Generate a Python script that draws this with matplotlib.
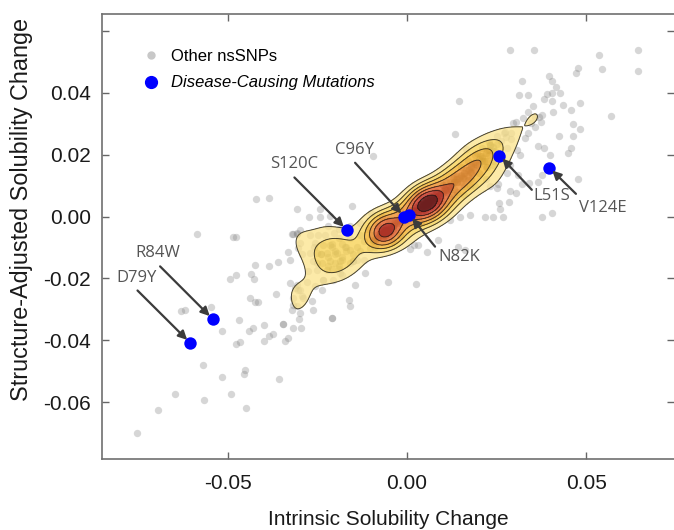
import numpy as np
import matplotlib
matplotlib.use("Agg")
import matplotlib.pyplot as plt
from matplotlib.lines import Line2D

plt.rcParams['font.family'] = ['Liberation Sans', 'DejaVu Sans']

# ---------------- data ----------------
# sparse nsSNPs, lower-left side
other_lowleft = [
    (-0.0586,-0.0056),(-0.0486,-0.0066),(-0.0477,-0.0066),(-0.0421,0.0057),(-0.0385,0.0061),
    (-0.0307,0.0025),(-0.0322,-0.0057),(-0.0307,-0.0056),(-0.0332,-0.0114),(-0.0304,-0.0101),
    (-0.0424,-0.0156),(-0.0385,-0.0159),(-0.0360,-0.0146),(-0.0326,-0.0142),(-0.0298,-0.0085),
    (-0.0294,-0.0120),(-0.0494,-0.0202),(-0.0477,-0.0188),(-0.0436,-0.0186),(-0.0426,-0.0202),
    (-0.0438,-0.0263),(-0.0424,-0.0277),(-0.0417,-0.0277),(-0.0366,-0.0249),(-0.0326,-0.0215),
    (-0.0312,-0.0231),(-0.0303,-0.0236),(-0.0319,-0.0263),(-0.0289,-0.0263),(-0.0322,-0.0301),
    (-0.0308,-0.0290),(-0.0298,-0.0312),(-0.0300,-0.0331),(-0.0296,-0.0360),(-0.0319,-0.0360),
    (-0.0345,-0.0346),(-0.0345,-0.0346),(-0.0266,-0.0274),(-0.0263,-0.0301),(-0.0161,-0.0271),
    (-0.0159,-0.0290),(-0.0208,-0.0328),(-0.0208,-0.0328),(-0.0052,-0.0213),(-0.0117,-0.0181),
    (-0.0145,-0.0220),(-0.0630,-0.0304),(-0.0618,-0.0301),(-0.0547,-0.0292),(-0.0517,-0.0371),
    (-0.0468,-0.0333),(-0.0477,-0.0411),(-0.0466,-0.0406),(-0.0440,-0.0371),(-0.0429,-0.0360),
    (-0.0398,-0.0350),(-0.0399,-0.0401),(-0.0384,-0.0387),(-0.0373,-0.0378),(-0.0340,-0.0403),
    (-0.0331,-0.0392),(-0.0568,-0.0481),(-0.0515,-0.0519),(-0.0456,-0.0507),(-0.0452,-0.0497),
    (-0.0356,-0.0524),(-0.0647,-0.0572),(-0.0566,-0.0594),(-0.0491,-0.0574),(-0.0450,-0.0619),
    (-0.0696,-0.0624),(-0.0752,-0.0699),(-0.0243,0.0024),(-0.0273,0.0000),(-0.0243,0.0000),
    (-0.0215,0.0002),(-0.0154,0.0035),(-0.0096,0.0197),(-0.0298,-0.0043),
]

# sparse nsSNPs, upper-right side
other_upright = [
    (0.0145,0.0373),(0.0134,0.0267),(0.0313,0.0393),(0.0338,0.0393),(0.0352,0.0357),
    (0.0338,0.0339),(0.0324,0.0317),(0.0304,0.0306),(0.0296,0.0301),(0.0346,0.0301),
    (0.0357,0.0290),(0.0338,0.0269),(0.0329,0.0253),(0.0273,0.0274),(0.0306,0.0215),
    (0.0315,0.0199),(0.0287,0.0167),(0.0278,0.0140),(0.0310,0.0135),(0.0320,0.0105),
    (0.0304,0.0075),(0.0287,0.0081),(0.0255,0.0105),(0.0252,0.0092),(0.0287,0.0538),
    (0.0355,0.0538),(0.0536,0.0522),(0.0645,0.0538),(0.0645,0.0471),(0.0543,0.0475),
    (0.0476,0.0481),(0.0471,0.0463),(0.0320,0.0439),(0.0397,0.0455),(0.0404,0.0439),
    (0.0416,0.0419),(0.0427,0.0400),(0.0406,0.0400),(0.0392,0.0396),(0.0383,0.0379),
    (0.0404,0.0374),(0.0436,0.0360),(0.0482,0.0366),(0.0459,0.0344),(0.0376,0.0328),
    (0.0369,0.0321),(0.0374,0.0306),(0.0357,0.0321),(0.0408,0.0339),(0.0569,0.0325),
    (0.0462,0.0299),(0.0482,0.0282),(0.0464,0.0260),(0.0425,0.0261),(0.0366,0.0228),
    (0.0383,0.0221),(0.0399,0.0199),(0.0459,0.0221),(0.0450,0.0205),(0.0478,0.0122),
    (0.0366,0.0113),(0.0376,0.0135),(0.0404,0.0011),(0.0377,0.0000),(0.0257,0.0045),
    (0.0259,0.0024),(0.0267,0.0000),(0.0285,0.0048),(0.0341,0.0108),(0.0241,0.0000),
    (0.0218,0.0000),(0.0008,-0.0104),(0.0020,-0.0091),(0.0055,-0.0113),(0.0087,-0.0077),
    (0.0143,-0.0097),(0.0162,-0.0107),(0.0025,-0.0217),(0.0120,-0.0011),(0.0148,0.0000),
    (0.0176,0.0005),
]

# nsSNPs along the upper ridge of the dense band
other_ridge = [
    (0.0165,0.0217),(0.0222,0.0215),(0.0194,0.0205),(0.0204,0.0194),(0.0241,0.0167),
    (0.0222,0.0161),(0.0231,0.0097),(0.0176,0.0097),(0.0129,0.0124),(0.0171,0.0118),
    (0.0180,0.0145),(0.0185,0.0172),(0.0101,0.0102),(0.0101,0.0102),(0.0231,0.0231),
    (0.0231,0.0231),(0.0105,0.0090),(0.0112,0.0085),(0.0118,0.0100),(0.0125,0.0105),
    (0.0130,0.0112),(0.0120,0.0092),(0.0138,0.0120),(0.0145,0.0125),(0.0150,0.0135),
    (0.0140,0.0110),(0.0158,0.0142),(0.0165,0.0150),(0.0172,0.0155),(0.0160,0.0130),
    (0.0180,0.0165),(0.0190,0.0175),(0.0200,0.0185),(0.0185,0.0160),(0.0210,0.0195),
    (0.0220,0.0205),(0.0230,0.0215),(0.0215,0.0180),(0.0240,0.0225),(0.0250,0.0235),
    (0.0262,0.0245),(0.0245,0.0210),(0.0275,0.0258),(0.0290,0.0270),
    (0.0120,0.0060),(0.0140,0.0080),(0.0160,0.0100),(0.0180,0.0120),(0.0200,0.0140),
    (0.0220,0.0160),(0.0240,0.0180),(0.0260,0.0200),(0.0110,0.0110),(0.0130,0.0130),
    (0.0150,0.0160),(0.0170,0.0180),(0.0190,0.0200),(0.0210,0.0220),(0.0230,0.0240),
    (0.0270,0.0270),(0.0290,0.0250),(0.0280,0.0220),(0.0250,0.0260),(0.0160,0.0070),
    (0.0190,0.0100),(0.0220,0.0120),(0.0080,0.0080),(0.0090,0.0050),(0.0120,0.0090),
    (0.0140,0.0110),
    (0.0110,0.0080),(0.0120,0.0100),(0.0130,0.0090),(0.0140,0.0120),(0.0150,0.0110),
    (0.0160,0.0140),(0.0170,0.0130),(0.0180,0.0160),(0.0190,0.0150),(0.0200,0.0170),
    (0.0210,0.0190),(0.0220,0.0180),(0.0120,0.0110),(0.0140,0.0130),(0.0160,0.0120),
    (0.0180,0.0140),
    (0.0130,0.0110),(0.0150,0.0130),(0.0170,0.0150),(0.0190,0.0170),(0.0210,0.0180),
    (0.0230,0.0200),(0.0240,0.0210),(0.0155,0.0125),(0.0175,0.0145),(0.0195,0.0165),
]

# nsSNPs in the upper density peak
other_peak_hi = [
    (0.0055,0.0043),(0.0050,0.0040),(0.0060,0.0047),(0.0045,0.0038),(0.0065,0.0050),
    (0.0052,0.0048),(0.0058,0.0036),(0.0040,0.0032),(0.0070,0.0055),(0.0048,0.0045),
    (0.0062,0.0040),(0.0035,0.0030),(0.0075,0.0058),(0.0053,0.0052),(0.0057,0.0032),
    (0.0030,0.0025),(0.0080,0.0062),(0.0044,0.0049),(0.0066,0.0038),(0.0025,0.0020),
    (0.0085,0.0066),(0.0038,0.0042),(0.0072,0.0045),(0.0020,0.0018),(0.0090,0.0070),
    (0.0050,0.0028),(0.0060,0.0058),(0.0033,0.0036),(0.0078,0.0050),(0.0015,0.0012),
    (0.0095,0.0075),(0.0042,0.0024),(0.0068,0.0064),(0.0028,0.0031),(0.0084,0.0056),
    (0.0010,0.0008),(0.0100,0.0082),(0.0055,0.0060),(0.0047,0.0022),(0.0064,0.0030),
    (0.0020,0.0005),(0.0030,0.0015),(0.0040,0.0025),(0.0050,0.0035),(0.0060,0.0045),
    (0.0070,0.0052),(0.0080,0.0060),(0.0090,0.0068),(0.0100,0.0075),(0.0110,0.0085),
    (0.0025,0.0030),(0.0035,0.0040),(0.0045,0.0050),(0.0055,0.0055),(0.0065,0.0065),
    (0.0075,0.0070),(0.0085,0.0078),(0.0030,0.0005),(0.0040,0.0012),(0.0050,0.0020),
    (0.0060,0.0028),(0.0070,0.0035),(0.0080,0.0042),(0.0090,0.0050),(0.0045,0.0042),
    (0.0055,0.0040),(0.0060,0.0050),(0.0050,0.0045),(0.0058,0.0043),(0.0052,0.0038),
    (0.0015,0.0020),(0.0000,0.0010),(0.0010,-0.0005),(0.0095,0.0060),(0.0105,0.0090),
    (0.0068,0.0046),(0.0043,0.0033),(0.0063,0.0055),(0.0048,0.0030),(0.0073,0.0062),
]

# nsSNPs in the lower density peak
other_peak_lo = [
    (-0.0061,-0.0048),(-0.0056,-0.0044),(-0.0066,-0.0052),(-0.0050,-0.0040),(-0.0072,-0.0057),
    (-0.0058,-0.0054),(-0.0064,-0.0041),(-0.0045,-0.0036),(-0.0078,-0.0062),(-0.0053,-0.0050),
    (-0.0069,-0.0045),(-0.0040,-0.0032),(-0.0084,-0.0068),(-0.0060,-0.0060),(-0.0062,-0.0036),
    (-0.0035,-0.0028),(-0.0090,-0.0074),(-0.0048,-0.0047),(-0.0075,-0.0050),(-0.0030,-0.0022),
    (-0.0096,-0.0080),(-0.0055,-0.0030),(-0.0067,-0.0064),(-0.0025,-0.0016),(-0.0020,-0.0010),
    (-0.0061,-0.0048),(-0.0055,-0.0046),(-0.0066,-0.0050),(-0.0058,-0.0042),(-0.0064,-0.0054),
    (-0.0050,-0.0035),(-0.0072,-0.0060),(-0.0045,-0.0030),(-0.0080,-0.0065),(-0.0040,-0.0040),
    (-0.0070,-0.0042),(-0.0052,-0.0055),(-0.0085,-0.0060),(-0.0035,-0.0020),(-0.0095,-0.0075),
    (-0.0068,-0.0070),(-0.0058,-0.0032),(-0.0046,-0.0050),(-0.0076,-0.0054),(-0.0062,-0.0062),
    (-0.0020,-0.0020),(-0.0010,-0.0015),(0.0010,0.0000),(-0.0030,-0.0010),(0.0000,-0.0010),
    (-0.0020,0.0000),(0.0010,0.0020),(-0.0040,-0.0030),
    (-0.0060,-0.0046),(-0.0063,-0.0050),(-0.0057,-0.0049),(-0.0065,-0.0045),(-0.0059,-0.0052),
    (-0.0062,-0.0044),(-0.0054,-0.0042),(-0.0068,-0.0056),
]

# nsSNPs in the broad lower lobe and between the peaks
other_lobe = [
    (-0.0317,-0.0056),(-0.0308,-0.0054),(-0.0270,-0.0059),(-0.0247,-0.0059),(-0.0205,-0.0054),
    (-0.0257,-0.0086),(-0.0233,-0.0091),(-0.0215,-0.0091),(-0.0270,-0.0118),(-0.0252,-0.0118),
    (-0.0224,-0.0118),(-0.0196,-0.0118),(-0.0261,-0.0145),(-0.0238,-0.0150),(-0.0215,-0.0145),
    (-0.0187,-0.0145),(-0.0150,-0.0145),(-0.0150,-0.0145),(-0.0140,-0.0140),(-0.0275,-0.0177),
    (-0.0252,-0.0172),(-0.0224,-0.0172),(-0.0187,-0.0183),(-0.0233,-0.0204),(-0.0233,-0.0204),
    (-0.0206,-0.0204),(-0.0280,-0.0210),(-0.0257,-0.0226),(-0.0238,-0.0236),(-0.0308,-0.0220),
    (-0.0298,-0.0236),(-0.0294,-0.0258),(-0.0173,-0.0097),(-0.0159,-0.0107),(-0.0103,-0.0102),
    (-0.0089,-0.0097),(0.0032,-0.0091),(-0.0317,-0.0285),
    (-0.0120,-0.0080),(-0.0100,-0.0060),(-0.0140,-0.0100),(-0.0080,-0.0030),(-0.0110,-0.0040),
    (-0.0130,-0.0060),(-0.0160,-0.0070),(-0.0180,-0.0090),(-0.0090,-0.0080),(-0.0040,-0.0080),
    (-0.0020,-0.0060),(0.0020,-0.0030),(0.0040,-0.0020),(0.0070,0.0000),(0.0090,0.0020),
    (0.0110,0.0040),(0.0130,0.0070),(0.0030,0.0070),(0.0010,0.0050),(-0.0020,0.0020),
    (-0.0050,-0.0010),(-0.0070,0.0000),(-0.0100,0.0010),(-0.0130,-0.0020),(-0.0160,-0.0030),
    (-0.0190,-0.0040),(-0.0220,-0.0030),(-0.0015,-0.0012),(-0.0010,-0.0005),(0.0000,0.0003),
    (0.0005,-0.0004),(-0.0005,0.0006),(0.0003,0.0010),
    (-0.0240,-0.0120),(-0.0200,-0.0110),(-0.0180,-0.0130),(-0.0150,-0.0120),(-0.0130,-0.0110),
    (-0.0120,-0.0140),(-0.0210,-0.0090),(-0.0170,-0.0100),(-0.0230,-0.0060),(-0.0190,-0.0070),
    (-0.0240,-0.0120),(-0.0220,-0.0160),(-0.0200,-0.0120),(-0.0180,-0.0140),(-0.0210,-0.0100),
    (-0.0190,-0.0170),(-0.0210,-0.0170),(-0.0250,-0.0150),(-0.0170,-0.0110),(-0.0160,-0.0150),
    (-0.0220,-0.0130),(-0.0200,-0.0150),(-0.0260,-0.0100),(-0.0190,-0.0160),(-0.0180,-0.0190),
]

# disease-causing mutations
disease_labels = ['L51S', 'D79Y', 'N82K', 'R84W', 'C96Y', 'S120C', 'V124E']
disease_x = [0.0258, -0.0605, 0.0007, -0.0542, -0.0008, -0.0168, 0.0397]
disease_y = [0.0197, -0.0408, 0.0005, -0.0331, 0.0000, -0.0043, 0.0158]

x_ticks = [-0.05, 0.00, 0.05]
x_ticklabels = ['-0.05', '0.00', '0.05']
y_ticks = [-0.06, -0.04, -0.02, 0.00, 0.02, 0.04, 0.06]
y_ticklabels = ['-0.06', '-0.04', '-0.02', '0.00', '0.02', '0.04', '']

# ---------------- figure ----------------
other = np.array(other_lowleft + other_upright + other_ridge + other_peak_hi
                 + other_peak_lo + other_lobe)
ox, oy = other[:, 0], other[:, 1]

fig = plt.figure(figsize=(6.74, 5.30), dpi=100)
ax = fig.add_axes([0.1513, 0.134, 0.8487, 0.8396])
xlim = (-0.0851, 0.0745)
ylim = (-0.0783, 0.0654)

ax.scatter(ox, oy, s=28, color='#7a7a7a', alpha=0.3, linewidths=0, zorder=1)

# Gaussian KDE with an isotropic kernel in display units
sx, sy = 3586.0, 3100.0          # px per data unit on each axis
sigma = 12.0                      # kernel width in px
gx = np.linspace(xlim[0], xlim[1], 320)
gy = np.linspace(ylim[0], ylim[1], 320)
GX, GY = np.meshgrid(gx, gy)
D = np.zeros_like(GX)
for px, py in zip(ox, oy):
    du = (GX - px) * sx
    dv = (GY - py) * sy
    D += np.exp(-0.5 * (du * du + dv * dv) / sigma ** 2)
D /= D.max()
levels = [0.14, 0.24, 0.35, 0.47, 0.6, 0.73, 0.87, 1.01]
fills = ['#fce38a', '#f8d04a', '#f3ae1d', '#ee8416', '#e04e12', '#c01c0b', '#6a0000']
ax.contourf(GX, GY, D, levels=levels, colors=fills, alpha=0.74, zorder=2)
ax.contour(GX, GY, D, levels=levels[:-1], colors='#222222', linewidths=0.7,
           alpha=0.85, zorder=3)

ax.scatter(disease_x, disease_y, s=80, color='#0000ff', linewidths=0, zorder=5)

# annotations: (arrow start offset, text offset) in points
ann_offsets = {
    'R84W': ((-37.9, 37.9), (-39.4, 47.7)),
    'D79Y': ((-37.9, 37.7), (-38.4, 47.0)),
    'S120C': ((-37.7, 37.7), (-37.6, 47.3)),
    'C96Y': ((-35.3, 38.7), (-35.5, 48.2)),
    'N82K': ((18.4, -22.8), (35.9, -30.0)),
    'L51S': ((23.3, -24.7), (37.9, -29.5)),
    'V124E': ((19.2, -18.9), (38.3, -29.2)),
}
for lab, xv, yv in zip(disease_labels, disease_x, disease_y):
    (ax0, ay0), (tx, ty) = ann_offsets[lab]
    ax.annotate('', xy=(xv, yv), xytext=(ax0, ay0), textcoords='offset points',
                arrowprops=dict(arrowstyle='-|>', color='#3c3c3c', lw=1.6,
                                mutation_scale=13, shrinkA=0, shrinkB=3),
                zorder=6)
    ax.annotate(lab, xy=(xv, yv), xytext=(tx, ty), textcoords='offset points',
                ha='center', va='center', fontsize=12, color='#555555',
                family=['Open Sans', 'DejaVu Sans'], zorder=6)

ax.set_xlim(*xlim)
ax.set_ylim(*ylim)
ax.set_xticks(x_ticks)
ax.set_xticklabels(x_ticklabels)
ax.set_yticks(y_ticks)
ax.set_yticklabels(y_ticklabels)
ax.tick_params(direction='in', length=5, width=1, color='#666666', labelsize=15,
               labelcolor='#1a1a1a', top=True, right=True)
ax.tick_params(axis='x', pad=11)
ax.tick_params(axis='y', pad=8)
for side in ['left', 'bottom', 'top']:
    ax.spines[side].set_color('#707070')
    ax.spines[side].set_linewidth(1.2)
ax.spines['right'].set_visible(False)

ax.set_xlabel('Intrinsic Solubility Change', fontsize=15, labelpad=12, color='#1a1a1a')
ylab = ax.set_ylabel('Structure-Adjusted Solubility Change', fontsize=16.8, color='#1a1a1a')
ylab.set_va('center')
ax.yaxis.set_label_coords(-0.141, 0.56)

handles = [Line2D([], [], marker='o', ls='', color='#c8c8c8', markersize=5),
           Line2D([], [], marker='o', ls='', color='#0000ff', markersize=8.5)]
leg = ax.legend(handles, ['Other nsSNPs', 'Disease-Causing Mutations'],
                loc='upper left', bbox_to_anchor=(0.071, 0.922), frameon=False,
                fontsize=12, handlelength=1.0, handletextpad=0.7, labelspacing=0.7,
                borderaxespad=0, borderpad=0)
leg.get_texts()[1].set_style('italic')

fig.savefig('out.png', dpi=100)
